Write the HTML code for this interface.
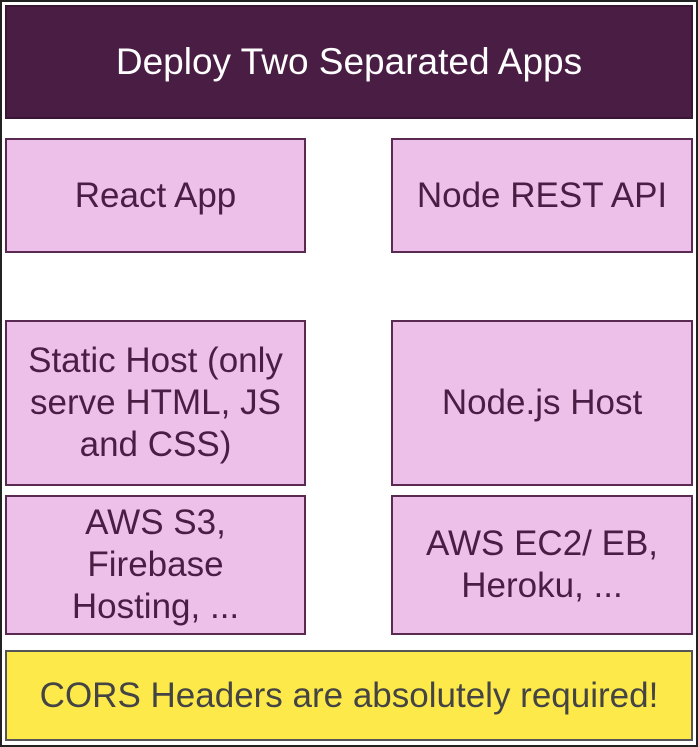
<html><head><style>
body{margin:0;width:698px;height:747px;background:#fff;position:relative;overflow:hidden;font-family:"Liberation Sans",sans-serif}
.f{position:absolute;left:0;top:0;width:694px;height:743px;border:2px solid #222}
.b{position:absolute;box-sizing:border-box;display:flex;align-items:center;justify-content:center;text-align:center;font-size:35px;line-height:42px;color:#4a1d45;background:#ecc0e8;border:2px solid #5a2a52;white-space:nowrap}
</style></head><body>
<div class="f"></div>
<div class="b" style="left:5px;top:5px;width:688px;height:114px;background:#4a1d45;border-color:#3a1535;color:#fff;font-size:37px">Deploy Two Separated Apps</div>
<div class="b" style="left:5px;top:138px;width:301px;height:115px">React App</div>
<div class="b" style="left:391px;top:138px;width:302px;height:115px">Node REST API</div>
<div class="b" style="left:5px;top:320px;width:301px;height:166px">Static Host (only<br>serve HTML, JS<br>and CSS)</div>
<div class="b" style="left:391px;top:320px;width:302px;height:166px">Node.js Host</div>
<div class="b" style="left:5px;top:495px;width:301px;height:140px">AWS S3,<br>Firebase<br>Hosting, ...</div>
<div class="b" style="left:391px;top:495px;width:302px;height:140px">AWS EC2/ EB,<br>Heroku, ...</div>
<div class="b" style="left:5px;top:650px;width:688px;height:91px;background:#fdea4a;border-color:#555;color:#444">CORS Headers are absolutely required!</div>
</body></html>
